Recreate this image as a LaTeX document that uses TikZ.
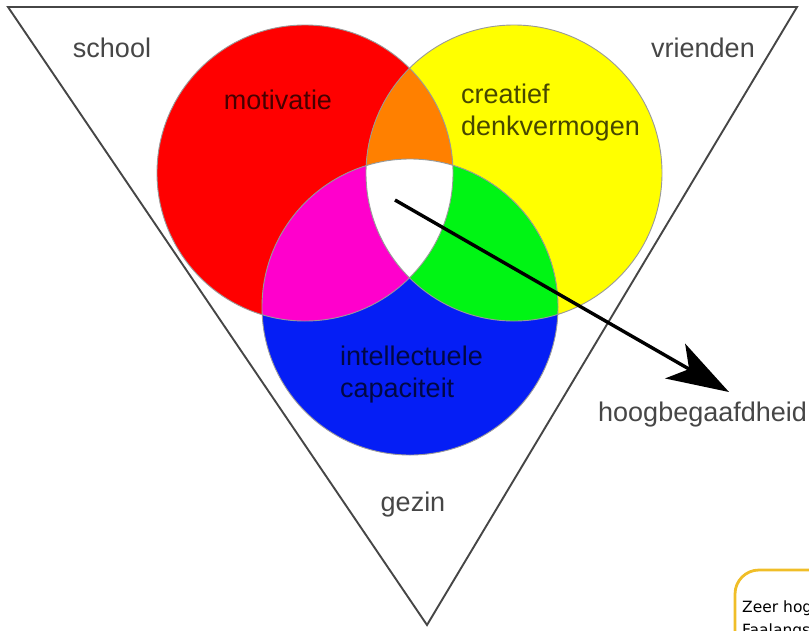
\documentclass[tikz,border=0pt]{standalone}
\usepackage{fontspec}
\setmainfont{Liberation Sans}
\newfontfamily\kaderfont{DejaVu Sans}
\usetikzlibrary{arrows.meta}
\definecolor{rood}{RGB}{255,0,0}
\definecolor{geel}{RGB}{255,255,0}
\definecolor{blauw}{RGB}{5,30,245}
\definecolor{oranje}{RGB}{255,128,0}
\definecolor{paars}{RGB}{255,0,204}
\definecolor{groen}{RGB}{0,245,20}
\definecolor{rand}{RGB}{70,70,70}
\definecolor{goud}{RGB}{240,190,40}

\tikzset{
    woord/.style={text=rand, font=\fontsize{27}{32}\selectfont, inner sep=0pt},
    binnen/.style={text=black, text opacity=0.72, font=\fontsize{27}{32}\selectfont, inner sep=0pt, align=left},
    cirkelrand/.style={draw=gray!80, line width=0.9pt}
}

\begin{document}
\begin{tikzpicture}[x=1pt, y=-1pt]
        \useasboundingbox (0,0) rectangle (809,630);

        % the triangle
        \draw[rand, line width=1.9pt, line join=miter] (8,7) -- (797,7) -- (427,625) -- cycle;

        % draw the sets
        \fill[rood] (305,173) circle (148pt);
        \fill[geel] (514,173) circle (148pt);
        \fill[blauw] (410,307) circle (148pt);

        % overlaps
        \begin{scope}
            \clip (305,173) circle (148pt);
            \fill[oranje] (514,173) circle (148pt);
            \fill[paars] (410,307) circle (148pt);
        \end{scope}
        \begin{scope}
            \clip (514,173) circle (148pt);
            \fill[groen] (410,307) circle (148pt);
            \clip (305,173) circle (148pt);
            \fill[white] (410,307) circle (148pt);
        \end{scope}

        % edges of the sets
        \draw[cirkelrand] (305,173) circle (148pt);
        \draw[cirkelrand] (514,173) circle (148pt);
        \draw[cirkelrand] (410,307) circle (148pt);

        % names
        \node[woord] (school) at (112,48) {school};
        \node[woord] (vrienden) at (703,48) {vrienden};
        \node[woord] (gezin) at (413,505) {gezin};
        \node[woord, anchor=west] (hoog) at (598,415) {hoogbegaafdheid};

        % sets
        \node[binnen] (motivatie) at (278,100) {motivatie};
        \node[binnen, anchor=north west] (creatief) at (461,84) {creatief\\denkvermogen};
        \node[binnen, anchor=north west] (intellect) at (340,346) {intellectuele\\capaciteit};

        % arrow
        \coordinate (kern) at (395,200);
        \coordinate (punt) at (729,392);
        \draw[line width=3.4pt, -{Stealth[length=62pt, width=40pt, inset=16pt]}] (kern) -- (punt);

        % box in the corner
        \begin{scope}
            \clip (0,0) rectangle (809,630);
            \draw[goud, line width=2.8pt, rounded corners=24pt] (735,570) rectangle (900,720);
            \node[font=\kaderfont\fontsize{15.5}{23}\selectfont, anchor=base west, inner sep=0pt, align=left] (kader) at (742,635) {Zeer hog\\Faalangs};
        \end{scope}

    \end{tikzpicture}
\end{document}
